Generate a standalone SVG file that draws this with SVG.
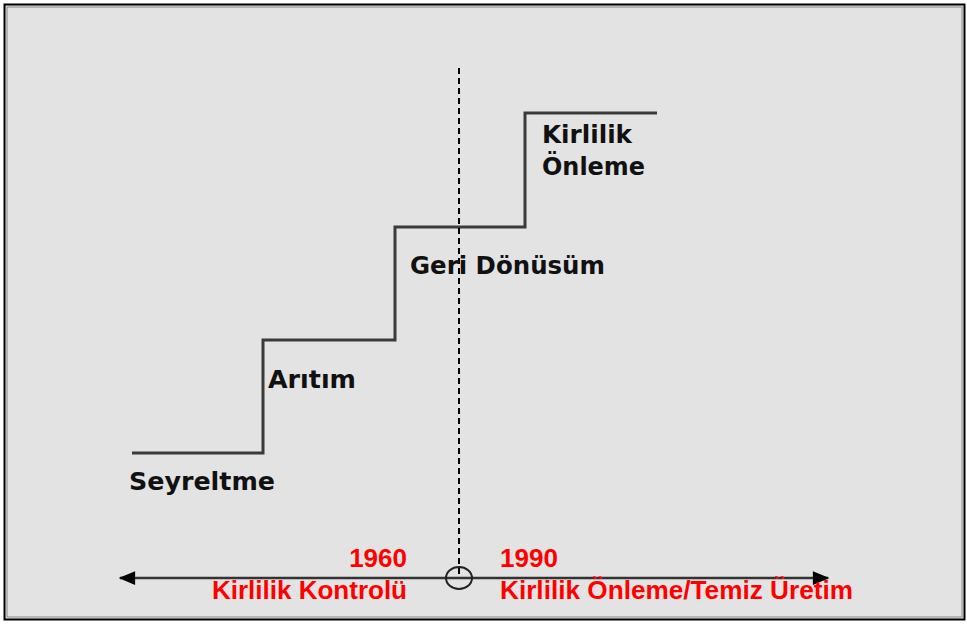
<svg xmlns="http://www.w3.org/2000/svg" width="967" height="624" viewBox="0 0 967 624">
<defs>
<style>
.step{fill:none;stroke:#3a3a3a;stroke-width:3}
.lbl{font-family:"DejaVu Sans",sans-serif;font-weight:bold;font-size:24px;fill:#111}
.red{font-family:"Liberation Sans",Arial,sans-serif;font-weight:bold;font-size:26px;fill:#ff0000}
.axis{stroke:#333;stroke-width:2.5;fill:none}
</style>
<marker id="ah" viewBox="0 0 12 10" refX="11" refY="5" markerWidth="7" markerHeight="5.5" markerUnits="strokeWidth" orient="auto-start-reverse">
<path d="M0,0 L12,5 L0,10 z" fill="#000"/>
</marker>
</defs>
<rect x="0" y="0" width="967" height="624" fill="#ffffff"/>
<rect x="4.5" y="4.5" width="960" height="615" fill="#e3e3e3" stroke="#000" stroke-width="2"/>
<rect x="7" y="7" width="955" height="610" fill="none" stroke="#8a8a8a" stroke-width="1"/>
<g id="connectors">
<path class="step" d="M132,453 H263 V340 H395 V227 H525 V113 H657"/>
<line x1="459" y1="68" x2="459" y2="578" stroke="#000" stroke-width="2" stroke-dasharray="6,4"/>
<line class="axis" x1="120" y1="578" x2="828" y2="578" marker-start="url(#ah)" marker-end="url(#ah)"/>
<ellipse cx="459" cy="578" rx="13" ry="11" fill="none" stroke="#222" stroke-width="2"/>
</g>
<g id="seyreltme"><text class="lbl" x="129" y="490" textLength="146" lengthAdjust="spacingAndGlyphs">Seyreltme</text></g>
<g id="aritim"><text class="lbl" x="268" y="388" textLength="88" lengthAdjust="spacingAndGlyphs">Arıtım</text></g>
<g id="geri-donusum"><text class="lbl" x="410" y="274" textLength="195" lengthAdjust="spacingAndGlyphs">Geri Dönüsüm</text></g>
<g id="kirlilik-onleme"><text class="lbl" x="542" y="143" textLength="90" lengthAdjust="spacingAndGlyphs">Kirlilik</text><text class="lbl" x="542" y="175" textLength="103" lengthAdjust="spacingAndGlyphs">Önleme</text></g>
<g id="y1960"><text class="red" x="407" y="567" text-anchor="end">1960</text><text class="red" x="407" y="599" text-anchor="end">Kirlilik Kontrolü</text></g>
<g id="y1990"><text class="red" x="500" y="567">1990</text><text class="red" x="500" y="599" textLength="353" lengthAdjust="spacingAndGlyphs">Kirlilik Önleme/Temiz Üretim</text></g>
</svg>
